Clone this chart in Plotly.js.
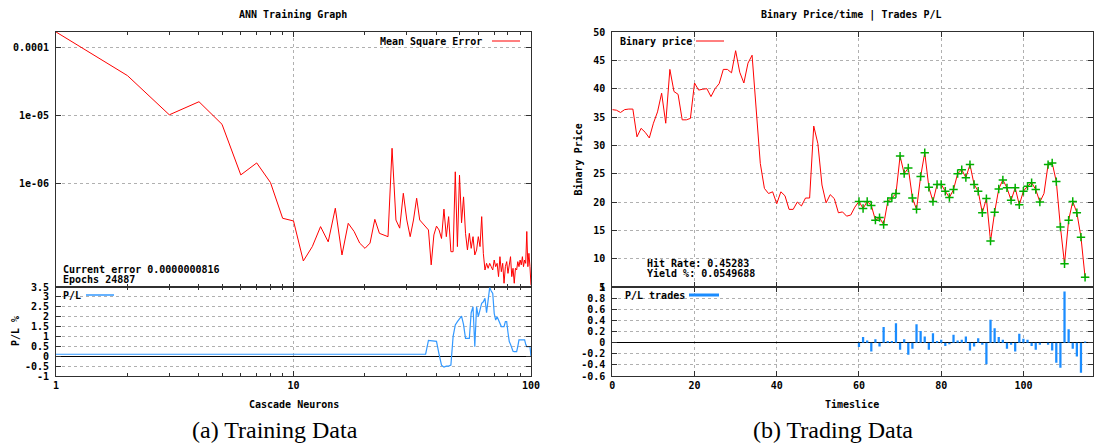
<!DOCTYPE html>
<html><head><meta charset="utf-8">
<script src="https://cdn.plot.ly/plotly-3.0.1.min.js"></script>
<style>html,body{margin:0;padding:0;background:#fff}#chart{width:1094px;height:447px}</style>
</head><body><div id="chart"></div>
<script>
// ---------- data ----------
const neurons = [1,2,3,4,5,6,7,8,9,10,11,12,13,14,15,16,17,18,19,20,
21,22,23,24,25,26,27,28,29,30,31,32,33,34,35,36,37,38,39,40,
41,42,43,44,45,46,47,48,49,50,51,52,53,54,55,56,57,58,59,60,
61,62,63,64,65,66,67,68,69,70,71,72,73,74,75,76,77,78,79,80,
81,82,83,84,85,86,87,88,89,90,91,92,93,94,95,96,97,98,99,100];

const mse = [1.72e-4,3.92e-5,1.04e-5,1.62e-5,7.55e-6,1.36e-6,2.04e-6,1.05e-6,3.13e-7,2.86e-7,
7.38e-8,1.20e-7,2.36e-7,1.41e-7,4.40e-7,9.04e-8,2.64e-7,2.0e-7,1.35e-7,1.13e-7,
1.35e-7,3.02e-7,1.88e-7,1.78e-7,1.68e-7,3.35e-6,2.95e-7,2.24e-7,7.3e-7,2.95e-7,
1.68e-7,2.95e-7,6.17e-7,2.95e-7,2.64e-7,2.34e-7,2.11e-7,6.46e-8,1.78e-7,2.40e-7,
2.11e-7,1.58e-7,4.27e-7,1.68e-7,3.31e-7,1.01e-7,1.01e-7,1.51e-6,1.20e-7,1.35e-6,
2.69e-7,6.46e-7,1.88e-7,1.07e-7,1.88e-7,1.13e-7,1.68e-7,9.04e-8,1.07e-7,1.68e-7,
1.20e-7,3.31e-7,9.55e-8,5.43e-8,6.81e-8,5.75e-8,6.81e-8,6.08e-8,5.43e-8,7.62e-8,
6.08e-8,6.81e-8,4.34e-8,8.53e-8,5.13e-8,6.81e-8,3.47e-8,6.08e-8,7.21e-8,4.85e-8,
6.08e-8,8.53e-8,4.34e-8,5.75e-8,3.47e-8,5.75e-8,5.43e-8,7.21e-8,6.08e-8,7.62e-8,
6.46e-8,8.53e-8,6.08e-8,7.62e-8,6.81e-8,2.0e-7,6.08e-8,9.55e-8,6.08e-8,3.24e-8];

const plPct = [0.1,0.1,0.1,0.1,0.1,0.1,0.1,0.1,0.1,0.1,
0.1,0.1,0.1,0.1,0.1,0.1,0.1,0.1,0.1,0.1,
0.1,0.1,0.1,0.1,0.1,0.1,0.1,0.1,0.1,0.1,
0.1,0.1,0.1,0.1,0.1,0.1,0.8,0.78,0.78,0.75,
0.1,-0.45,-0.55,-0.5,-0.5,-0.45,1.0,1.58,1.75,1.9,
2.03,1.6,0.9,0.9,0.9,2.2,2.5,0.48,2.5,2.0,
2.4,2.68,2.75,2.93,2.2,2.8,3.47,3.3,3.18,2.17,
1.83,2.0,1.83,1.6,1.5,1.5,1.5,1.75,1.75,1.2,
0.74,0.6,0.4,0.25,0.23,0.25,0.23,0.5,0.83,0.83,
0.83,0.83,0.83,0.83,0.6,0.49,0.49,0.49,0.49,0.0];

const timeslice = [0,1,2,3,4,5,6,7,8,9,10,11,12,13,14,15,16,17,18,19,
20,21,22,23,24,25,26,27,28,29,30,31,32,33,34,35,36,37,38,39,
40,41,42,43,44,45,46,47,48,49,50,51,52,53,54,55,56,57,58,59,
60,61,62,63,64,65,66,67,68,69,70,71,72,73,74,75,76,77,78,79,
80,81,82,83,84,85,86,87,88,89,90,91,92,93,94,95,96,97,98,99,
100,101,102,103,104,105,106,107,108,109,110,111,112,113,114,115,116];

const price = [36.3,36.2,35.8,36.3,36.4,36.4,31.5,33.0,32.3,31.3,
33.9,35.9,39.2,33.9,43.4,39.5,39.0,34.5,34.5,34.75,
41.0,39.75,39.9,40.0,38.6,40.0,40.9,43.4,43.4,42.8,
46.7,42.9,41.0,44.5,45.9,36.8,26.8,22.4,21.5,21.8,
19.7,21.8,21.1,18.7,18.7,20.0,19.3,20.7,20.7,33.4,
30.3,23.0,19.85,21.3,20.6,18.1,18.25,17.5,17.7,19.1,
20.1,18.85,20.1,19.4,16.8,17.25,16.0,20.1,20.7,21.5,
28.1,25.0,26.0,20.7,18.7,24.5,28.7,22.6,20.1,23.1,
23.1,21.9,20.8,22.2,25.0,25.7,24.3,26.6,23.1,21.9,
18.1,20.6,13.1,18.2,22.3,23.9,22.5,20.3,22.5,19.5,
21.9,22.8,23.4,22.2,20.0,21.5,26.6,26.9,23.6,15.6,
9.1,16.8,20.1,18.1,13.8,6.7,6.7];

const tradeTimes = [60,61,62,63,64,65,66,67,68,69,70,71,72,73,74,75,76,77,78,79,
80,81,82,83,84,85,86,87,88,89,90,91,92,93,94,95,96,97,98,99,
100,101,102,103,104,106,107,108,109,110,111,112,113,114,115];

const tradePL = [-0.08,0.10,0.04,-0.16,0.06,-0.07,0.28,0.03,0.03,0.35,
-0.13,0.06,-0.22,-0.11,0.33,0.21,0.11,-0.13,0.17,0.03,
0.05,-0.06,-0.03,0.14,0.04,0.05,0.11,-0.14,-0.07,0.08,
-0.04,-0.39,0.41,0.26,0.10,0.05,-0.11,-0.04,-0.16,0.16,
0.07,0.05,-0.06,-0.13,-0.04,-0.04,-0.14,-0.36,-0.45,0.92,
0.24,-0.11,-0.25,-0.54,0.02];

const mseTickVals = [1e-4,1e-5,1e-6];
const mseTickText = ['0.0001','1e-05','1e-06'];
const neuronTickVals = [1,10,100];
const neuronTickText = ['1','10','100'];
const neuronMinor = [2,3,4,5,6,7,8,9,20,30,40,50,60,70,80,90];
const plTickVals = [-1,-0.5,0,0.5,1,1.5,2,2.5,3,3.5];
const plTickText = ['-1','-0.5','0','0.5','1','1.5','2','2.5','3','3.5'];
const timeTickVals = [0,20,40,60,80,100];
const timeTickText = ['0','20','40','60','80','100'];
const priceTickVals = [5,10,15,20,25,30,35,40,45,50];
const priceTickText = ['5','10','15','20','25','30','35','40','45','50'];
const tradeTickVals = [-0.6,-0.4,-0.2,0,0.2,0.4,0.6,0.8,1];
const tradeTickText = ['-0.6','-0.4','-0.2','0','0.2','0.4','0.6','0.8','1'];

// ---------- layout helpers ----------
const W = 1094, H = 447;
const fx = p => p / W;
const fy = p => 1 - p / H;
const mono = {family: 'DejaVu Sans Mono', size: 10, weight: 'bold', color: '#000'};
const serif = {family: 'Liberation Serif', size: 24, weight: 'normal', color: '#000'};
const gridC = '#b0b0b0', lineC = '#303030';

const LX = [fx(56), fx(531)], RX = [fx(612.3), fx(1093.3)];
const TOPY = [fy(287), fy(32)], BOTY = [fy(376), fy(287)];

function ax(extra) {
  return Object.assign({
    showline: true, linecolor: lineC, linewidth: 1, mirror: 'ticks',
    ticks: 'inside', ticklen: 5, tickcolor: lineC, tickwidth: 1,
    showgrid: true, gridcolor: gridC, griddash: 'dot', gridwidth: 1,
    zeroline: false, tickfont: mono, fixedrange: true
  }, extra);
}

const tradePrice = tradeTimes.map(t => price[timeslice.indexOf(t)]);

const traces = [
  {x: neurons, y: mse, xaxis: 'x', yaxis: 'y', mode: 'lines', line: {color: '#ff0000', width: 1}},
  {x: neurons, y: plPct, xaxis: 'x2', yaxis: 'y2', mode: 'lines', line: {color: '#3399ff', width: 1.2}},
  {x: timeslice, y: price, xaxis: 'x3', yaxis: 'y3', mode: 'lines', line: {color: '#ff0000', width: 1}},
  {x: tradeTimes, y: tradePrice, xaxis: 'x3', yaxis: 'y3', mode: 'markers',
   marker: {symbol: 'cross-thin', size: 6, color: '#00b000', line: {color: '#00b000', width: 1.5}}},
  {x: tradeTimes, y: tradePL, xaxis: 'x4', yaxis: 'y4', type: 'bar', width: 0.55,
   marker: {color: '#1a8cff', line: {width: 0}}}
];

const layout = {
  width: W, height: H, autosize: false, showlegend: false,
  margin: {l: 0, r: 0, t: 0, b: 0, pad: 0},
  paper_bgcolor: '#fff', plot_bgcolor: '#fff',
  font: mono,
  xaxis: ax({domain: LX, anchor: 'y', type: 'log', range: [0, 2], tickvals: neuronTickVals,
    showticklabels: false, minor: {tickvals: neuronMinor, ticks: 'inside', ticklen: 3, tickcolor: lineC, showgrid: false}}),
  yaxis: ax({domain: TOPY, anchor: 'x', type: 'log', range: [-7.515, -3.765],
    tickvals: mseTickVals, ticktext: mseTickText, ticklabelstandoff: 4}),
  xaxis2: ax({domain: LX, anchor: 'y2', type: 'log', range: [0, 2], tickvals: neuronTickVals, ticktext: neuronTickText,
    minor: {tickvals: neuronMinor, ticks: 'inside', ticklen: 3, tickcolor: lineC, showgrid: false}}),
  yaxis2: ax({domain: BOTY, anchor: 'x2', range: [-1, 3.5], tickvals: plTickVals, ticktext: plTickText,
    zeroline: true, zerolinecolor: '#000', zerolinewidth: 1, ticklabelstandoff: 4}),
  xaxis3: ax({domain: RX, anchor: 'y3', range: [0, 117], tickvals: timeTickVals, showticklabels: false}),
  yaxis3: ax({domain: TOPY, anchor: 'x3', range: [5, 50], tickvals: priceTickVals, ticktext: priceTickText, ticklabelstandoff: 4}),
  xaxis4: ax({domain: RX, anchor: 'y4', range: [0, 117], tickvals: timeTickVals, ticktext: timeTickText}),
  yaxis4: ax({domain: BOTY, anchor: 'x4', range: [-0.6, 1], tickvals: tradeTickVals, ticktext: tradeTickText,
    zeroline: true, zerolinecolor: '#000', zerolinewidth: 1, ticklabelstandoff: 4}),
  annotations: [
    {text: 'ANN Training Graph', x: fx(293), y: fy(15)},
    {text: 'Binary Price/time | Trades P/L', x: fx(851), y: fy(15)},
    {text: 'Cascade Neurons', x: fx(293.5), y: fy(404)},
    {text: 'Timeslice', x: fx(852), y: fy(404)},
    {text: 'P/L %', x: fx(15), y: fy(331), textangle: -90},
    {text: 'Binary Price', x: fx(577.5), y: fy(160), textangle: -90},
    {text: 'Current error 0.0000000816', x: fx(61), y: fy(269), xanchor: 'left'},
    {text: 'Epochs 24887', x: fx(61), y: fy(279), xanchor: 'left'},
    {text: 'Hit Rate: 0.45283', x: fx(645), y: fy(263), xanchor: 'left'},
    {text: 'Yield %: 0.0549688', x: fx(645), y: fy(273.5), xanchor: 'left'},
    {text: 'Mean Square Error', x: fx(484), y: fy(41), xanchor: 'right'},
    {text: 'P/L', x: fx(61), y: fy(295), xanchor: 'left'},
    {text: 'Binary price', x: fx(617.5), y: fy(41), xanchor: 'left'},
    {text: 'P/L trades', x: fx(623), y: fy(295), xanchor: 'left'},
    {text: '(a) Training Data', x: fx(275), y: fy(430), font: serif},
    {text: '(b) Trading Data', x: fx(833), y: fy(430), font: serif}
  ].map(a => Object.assign({xref: 'paper', yref: 'paper', showarrow: false, xanchor: 'center', yanchor: 'middle', font: mono}, a)),
  shapes: [
    {x0: fx(492), x1: fx(520), y0: fy(41), y1: fy(41), line: {color: '#ff0000', width: 1}},
    {x0: fx(86), x1: fx(114), y0: fy(295), y1: fy(295), line: {color: '#3399ff', width: 1.5}},
    {x0: fx(696), x1: fx(724), y0: fy(41), y1: fy(41), line: {color: '#ff0000', width: 1}},
    {x0: fx(689), x1: fx(719), y0: fy(295), y1: fy(295), line: {color: '#1a8cff', width: 3}}
  ].map(s => Object.assign({type: 'line', xref: 'paper', yref: 'paper'}, s))
};

Plotly.newPlot('chart', traces, layout, {staticPlot: true, displayModeBar: false});
</script>
</body></html>
